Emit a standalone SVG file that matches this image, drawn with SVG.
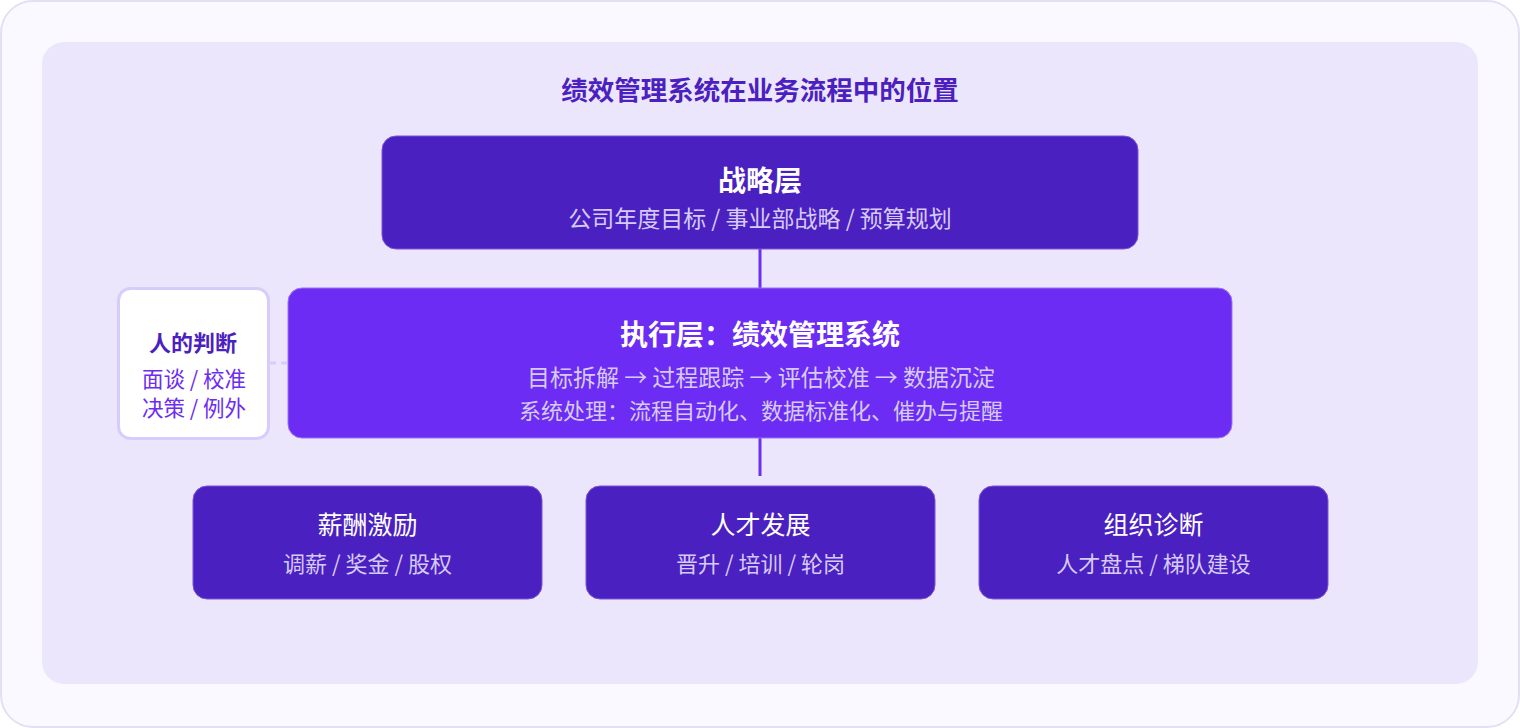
<svg xmlns="http://www.w3.org/2000/svg" width="1520" height="728" viewBox="0 0 1520 728">
<style>
text{font-family:"Noto Sans CJK SC","Noto Sans",sans-serif;text-anchor:middle}
.dark{fill:#4b20c1;stroke:#7a55d8;stroke-width:1}
.exec{fill:#6c2cf4;stroke:#9a72f2;stroke-width:1}
.t{fill:#ffffff;font-weight:700;font-size:28px}
.bt{fill:#ffffff;font-weight:400;font-size:25px}
.s{fill:#d6cbf8;font-size:22px}
.m{font-size:23px}
.conn{stroke:#6d2ff0;stroke-width:3;fill:none}
</style>
<rect x="1" y="1" width="1518" height="726" rx="32" fill="#faf9ff" stroke="#e3e0f3" stroke-width="2"/>
<rect x="42" y="42" width="1436" height="642" rx="22" fill="#ece6fc"/>
<text x="760" y="100" font-size="26.5" font-weight="700" fill="#4c1fc0">绩效管理系统在业务流程中的位置</text>
<g id="connectors">
<line class="conn" x1="760" y1="249" x2="760" y2="288"/>
<line class="conn" x1="760" y1="438" x2="760" y2="476"/>
<line x1="270" y1="363" x2="288" y2="363" stroke="#d8ccfa" stroke-width="3" stroke-dasharray="6 5"/>
</g>
<g id="strategy">
<rect class="dark" x="382" y="136" width="756" height="113" rx="14"/>
<text class="t" x="760" y="191">战略层</text>
<text class="s m" x="760" y="227">公司年度目标 / 事业部战略 / 预算规划</text>
</g>
<g id="execution">
<rect class="exec" x="288" y="288" width="944" height="150" rx="14"/>
<text class="t" x="760" y="345">执行层：绩效管理系统</text>
<text class="s m" x="761" y="386">目标拆解 → 过程跟踪 → 评估校准 → 数据沉淀</text>
<text class="s" x="761" y="419" font-size="22.7">系统处理：流程自动化、数据标准化、催办与提醒</text>
</g>
<g id="judgment">
<rect x="118.5" y="288.5" width="150" height="150" rx="12" fill="#ffffff" stroke="#d8ccfa" stroke-width="3"/>
<text x="193" y="351" font-size="22" font-weight="700" fill="#4c1fc0">人的判断</text>
<text x="194" y="387" font-size="21.5" fill="#6c2cf4">面谈 / 校准</text>
<text x="194" y="416" font-size="21.5" fill="#6c2cf4">决策 / 例外</text>
</g>
<g id="compensation">
<rect class="dark" x="193" y="486" width="349" height="113" rx="14"/>
<text class="bt" x="367.5" y="534">薪酬激励</text>
<text class="s" x="367.5" y="572" font-size="21">调薪 / 奖金 / 股权</text>
</g>
<g id="talent">
<rect class="dark" x="586" y="486" width="349" height="113" rx="14"/>
<text class="bt" x="760.5" y="534">人才发展</text>
<text class="s" x="760.5" y="572">晋升 / 培训 / 轮岗</text>
</g>
<g id="org">
<rect class="dark" x="979" y="486" width="349" height="113" rx="14"/>
<text class="bt" x="1153.5" y="534">组织诊断</text>
<text class="s" x="1153.5" y="572">人才盘点 / 梯队建设</text>
</g>
</svg>
